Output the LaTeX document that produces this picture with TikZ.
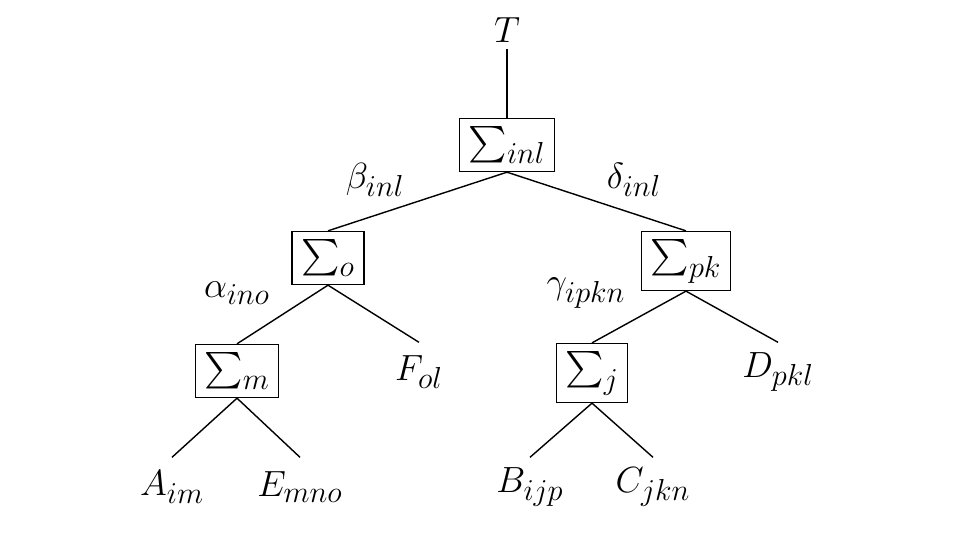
\documentclass[tikz,border=0pt]{standalone}
\usepackage{amsmath}
\usetikzlibrary{positioning}
\renewcommand{\defaultscriptratio}{.8}

\begin{document}
\begin{tikzpicture}[x=0.02cm,y=-0.02cm,line width=0.8pt,
    sumbox/.style={draw,inner xsep=0.18cm,inner ysep=0.15cm,font=\fontsize{21}{25}\selectfont},
    leaf/.style={inner sep=0pt,minimum height=1.16cm,font=\fontsize{21}{25}\selectfont},
    lbl/.style={font=\fontsize{21}{25}\selectfont}]

  \useasboundingbox (0,0) rectangle (965,538);

  % The root and the summation boxes
  \node[lbl] (T) at (507,30) {$T$};
  \node[sumbox] (sinl) at (507,145) {$\sum\nolimits_{inl}$};
  \node[sumbox] (so) at (328,258) {$\sum\nolimits_{o}$};
  \node[sumbox] (spk) at (686,261) {$\sum\nolimits_{pk}$};
  \node[sumbox] (sm) at (237,371) {$\sum\nolimits_{m}$};
  \node[sumbox] (sj) at (592,373) {$\sum\nolimits_{j}$};

  % The tensors at the leaves
  \node[leaf] (F) at (419,372) {$F_{ol}$};
  \node[leaf] (D) at (778,372) {$D_{pkl}$};
  \node[leaf] (A) at (172,487) {$A_{im}$};
  \node[leaf] (E) at (300,487) {$E_{mno}$};
  \node[leaf] (B) at (530,487) {$B_{ijp}$};
  \node[leaf] (C) at (653,487) {$C_{jkn}$};

  % Labels of the intermediate results
  \node[lbl] (beta) at (375,180) {$\beta_{inl}$};
  \node[lbl] (delta) at (634,180) {$\delta_{inl}$};
  \node[lbl] (alpha) at (237,293) {$\alpha_{ino}$};
  \node[lbl] (gamma) at (586,293) {$\gamma_{ipkn}$};

  \draw (T.south) -- (sinl.north);
  \draw (sinl.south) -- (so.north);
  \draw (sinl.south) -- (spk.north);
  \draw (so.south) -- (sm.north);
  \draw (so.south) -- (F.north);
  \draw (spk.south) -- (sj.north);
  \draw (spk.south) -- (D.north);
  \draw (sm.south) -- (A.north);
  \draw (sm.south) -- (E.north);
  \draw (sj.south) -- (B.north);
  \draw (sj.south) -- (C.north);

\end{tikzpicture}
\end{document}
